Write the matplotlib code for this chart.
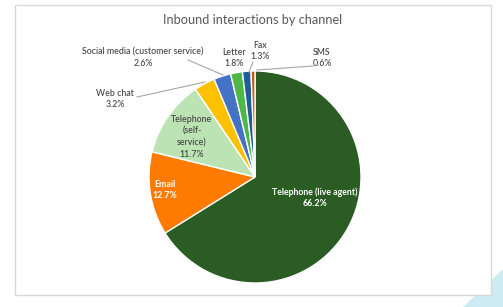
import numpy as np
import matplotlib.pyplot as plt
from matplotlib.patches import Rectangle, Polygon

plt.rcParams['font.family'] = ['Lato', 'DejaVu Sans']

# data
channels = ['Telephone (live agent)', 'Email', 'Telephone (self-service)', 'Web chat',
            'Social media (customer service)', 'Letter', 'Fax', 'SMS']
shares = [66.2, 12.7, 11.7, 3.2, 2.6, 1.8, 1.3, 0.6]
colors = ['#2B5C24', '#FF7B00', '#BCE3B4', '#FFC000', '#4472C4', '#4DB848', '#1F5C9A', '#C55A11']

W, H = 503, 307
cx, cy, R = 255, 177, 106   # pie centre and radius in pixels


def px(x, y):
    # pixel position -> data units
    return (x - cx) / R, (cy - y) / R


fig = plt.figure(figsize=(W / 100, H / 100), dpi=100)
ax = fig.add_axes([0, 0, 1, 1])

wedges, _ = ax.pie(shares, colors=colors, startangle=90, counterclock=False, radius=1,
                   wedgeprops=dict(edgecolor='white', linewidth=1.0))
for w in wedges:
    w.set_zorder(2)

ax.set_aspect('auto')
ax.set_xlim(-cx / R, (W - cx) / R)
ax.set_ylim(-(H - cy) / R, cy / R)
ax.axis('off')

# slide decoration + chart frame
ax.add_patch(Polygon([px(463, 307), px(503, 269), px(503, 307)], closed=True,
                     fc='#CDEBF3', ec='none', zorder=0))
x0, y0 = px(15, 295)
x1, y1 = px(491, 5)
ax.add_patch(Rectangle((x0, y0), x1 - x0, y1 - y0, fc='white', ec='#D9D9D9', lw=1.0, zorder=0.5))

ax.text(*px(253, 20), 'Inbound interactions by channel', ha='center', va='center',
        fontsize=9.2, color='#595959', zorder=3)

fs = 6.3
lab = '#404040'


def label(i, x, y, txt=None, color=lab):
    t = txt if txt is not None else channels[i]
    ax.text(*px(x, y), f'{t}\n{shares[i]}%', ha='center', va='center', fontsize=fs,
            color=color, linespacing=1.35, fontweight='bold' if color == 'white' else 'medium',
            zorder=4)


label(0, 315, 198, color='white')
label(1, 165, 190, color='white')
label(2, 192, 137, 'Telephone\n(self-\nservice)')
label(3, 115, 99)
label(4, 143, 58)
label(5, 234, 58)
label(6, 260, 51)
label(7, 322, 58)

# leader lines
leaders = [((137, 97), (205, 82)),
           ((188, 60), (223, 75)),
           ((253, 62), (249, 72)),
           ((313, 66), (257, 70))]
for a, b in leaders:
    ax.plot(*zip(px(*a), px(*b)), color='#A6A6A6', lw=0.8, zorder=3)

fig.savefig('out.png', dpi=100)
